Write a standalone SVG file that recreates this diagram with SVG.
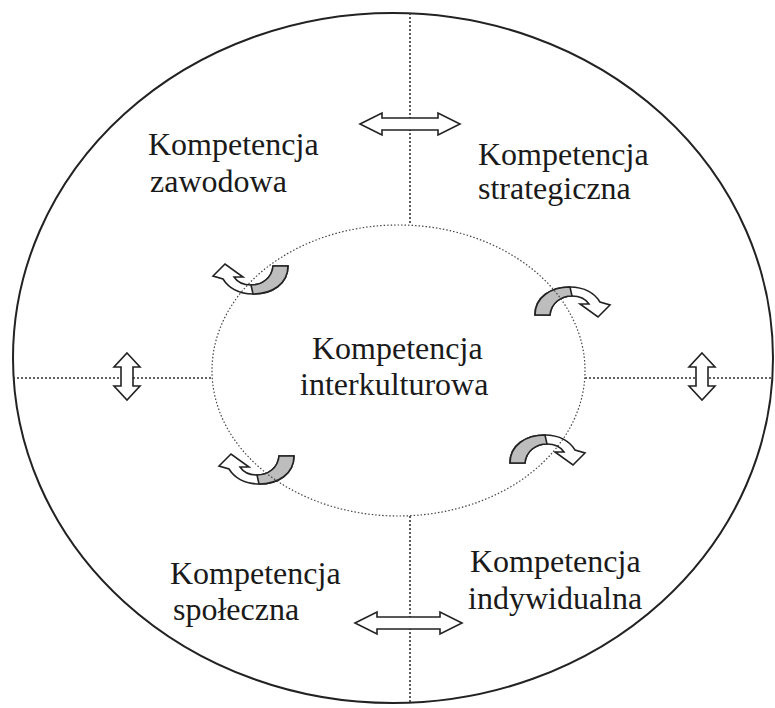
<svg xmlns="http://www.w3.org/2000/svg" width="775" height="708" viewBox="0 0 775 708">
<defs>
<style>
.txt{font-family:"Liberation Serif","Times New Roman",serif;font-size:32px;fill:#1a1a1a}
.dot{fill:none;stroke:#333;stroke-width:1.6;stroke-dasharray:2 2}
.blk{fill:#fff;stroke:#222;stroke-width:1.6;stroke-linejoin:miter}
.grey{fill:#bdbdbd;stroke:#222;stroke-width:1.6}
</style>
<g id="curved">
<path class="blk" d="M0,25 C0,7 16,-3 35,-3 C50,-3 60,4 65,12 L75,15 L63,27 L45,14 L54,14 C50,8 44,6 37,6 C26,6 16,13 15,25 Z"/>
<path class="grey" d="M0,25 C0,7 16,-3 35,-3 L37,6 C26,6 16,13 15,25 Z"/>
</g>
</defs>
<rect width="775" height="708" fill="#fff"/>
<g id="outer">
<ellipse cx="393" cy="358" rx="380" ry="345" fill="none" stroke="#222" stroke-width="2"/>
</g>
<g id="connectors">
<line class="dot" x1="410" y1="13" x2="410" y2="225"/>
<line class="dot" x1="410" y1="516" x2="410" y2="703"/>
<line class="dot" x1="13" y1="378" x2="212" y2="378"/>
<line class="dot" x1="585" y1="378" x2="772" y2="378"/>
<path class="blk" d="M360,124 L382,113 L382,118 L438,118 L438,113 L460,124 L438,135 L438,130 L382,130 L382,135 Z"/>
<path class="blk" d="M355,623 L377,612 L377,617 L440,617 L440,612 L462,623 L440,634 L440,629 L377,629 L377,634 Z"/>
<path class="blk" d="M127,353 L140,367 L133,367 L133,386 L140,386 L127,400 L114,386 L121,386 L121,367 L114,367 Z"/>
<path class="blk" d="M702,353 L715,367 L708,367 L708,386 L715,386 L702,400 L689,386 L696,386 L696,367 L689,367 Z"/>
<use href="#curved" transform="translate(288,291) rotate(180)"/>
<use href="#curved" transform="translate(535,290)"/>
<use href="#curved" transform="translate(294,481) rotate(180)"/>
<use href="#curved" transform="translate(510,438)"/>
</g>
<g id="inter">
<ellipse cx="398.5" cy="370.5" rx="186.5" ry="145.5" fill="none" stroke="#444" stroke-width="1.2" stroke-dasharray="1.5 2"/>
<text class="txt" x="312" y="359">Kompetencja</text>
<text class="txt" x="300" y="395">interkulturowa</text>
</g>
<g id="zawodowa">
<text class="txt" x="148" y="155">Kompetencja</text>
<text class="txt" x="150" y="192">zawodowa</text>
</g>
<g id="strategiczna">
<text class="txt" x="478" y="165">Kompetencja</text>
<text class="txt" x="478" y="199">strategiczna</text>
</g>
<g id="spoleczna">
<text class="txt" x="170" y="584">Kompetencja</text>
<text class="txt" x="173" y="620">społeczna</text>
</g>
<g id="indywidualna">
<text class="txt" x="470" y="572">Kompetencja</text>
<text class="txt" x="468" y="609">indywidualna</text>
</g>
</svg>
